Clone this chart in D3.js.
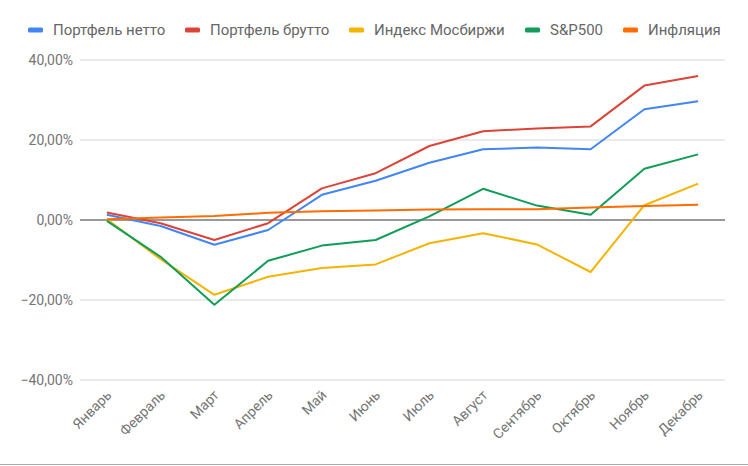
<!DOCTYPE html>
<html><head><meta charset="utf-8">
<script src="https://cdn.jsdelivr.net/npm/d3@7"></script>
<style>body{margin:0;background:#fff}svg{display:block;font-family:Roboto,Arial,sans-serif}</style>
</head><body><svg id="c" width="748" height="466"></svg>
<script>
const months = ["Январь","Февраль","Март","Апрель","Май","Июнь","Июль","Август","Сентябрь","Октябрь","Ноябрь","Декабрь"];
const seriesNames = ["Портфель нетто","Портфель брутто","Индекс Мосбиржи","S&P500","Инфляция"];
const seriesColors = ["#4285F4","#DB4437","#F4B400","#0F9D58","#FF6D00"];
const netto  = [1.3,-1.5,-6.2,-2.5,6.3,9.8,14.3,17.7,18.1,17.7,27.7,29.7];
const brutto = [1.9,-0.8,-5.0,-0.8,7.9,11.7,18.5,22.2,22.9,23.4,33.6,36.0];
const moex   = [0.2,-9.8,-18.7,-14.2,-12.0,-11.1,-5.8,-3.3,-6.1,-13.0,3.7,9.1];
const sp500  = [-0.2,-9.2,-21.2,-10.2,-6.4,-5.0,0.9,7.8,3.6,1.3,12.8,16.4];
const infl   = [0.2,0.6,1.0,1.8,2.2,2.4,2.6,2.7,2.7,3.1,3.5,3.8];
const yTicks = [-40,-20,0,20,40];
const data = [netto,brutto,moex,sp500,infl];

const svg = d3.select("#c");
const L=80,R=725,T=60,B=380;
const x = d3.scalePoint().domain(months).range([L,R]).padding(0.5);
const y = d3.scaleLinear().domain([-40,40]).range([B,T]);
const fmt = v => d3.format(".2f")(v).replace(".",",")+"%";

// gridlines
svg.append("g").selectAll("line").data(yTicks.filter(d=>d!==0)).join("line")
  .attr("x1",L).attr("x2",R).attr("y1",d=>y(d)).attr("y2",d=>y(d))
  .attr("stroke","#d6d6d6").attr("stroke-width",1);
// y labels
const ya = svg.append("g").attr("transform",`translate(${L},0)`)
  .call(d3.axisLeft(y).tickValues(yTicks).tickSize(0).tickPadding(7).tickFormat(fmt));
ya.select(".domain").remove();
ya.selectAll("text").attr("font-size",14).attr("fill","#757575").attr("font-family","Roboto");
// x labels
const xa = svg.append("g").attr("transform",`translate(0,${B})`)
  .call(d3.axisBottom(x).tickSize(0).tickPadding(0));
xa.select(".domain").remove();
xa.selectAll("text").attr("font-size",14).attr("fill","#757575").attr("font-family","Roboto")
  .attr("text-anchor","end").attr("dy",null).attr("y",0)
  .attr("transform","translate(5,16) rotate(-45)");

// baseline
svg.append("line").attr("x1",L).attr("x2",R).attr("y1",y(0)).attr("y2",y(0))
  .attr("stroke","#777").attr("stroke-width",1.5);
// lines
const line = d3.line().x((d,i)=>x(months[i])).y(d=>y(d));
svg.append("g").selectAll("path").data(data).join("path")
  .attr("d",line).attr("fill","none").attr("stroke",(d,i)=>seriesColors[i])
  .attr("stroke-width",2).attr("stroke-linejoin","round");

// legend
const legX=[28,185,349,525,623];
const lg = svg.append("g").selectAll("g").data(seriesNames).join("g")
  .attr("transform",(d,i)=>`translate(${legX[i]},30)`);
lg.append("rect").attr("x",0).attr("y",-2.5).attr("width",15).attr("height",5).attr("rx",1.5)
  .attr("fill",(d,i)=>seriesColors[i]);
lg.append("text").attr("x",25).attr("y",5).attr("font-size",15).attr("fill","#666")
  .attr("font-family","Roboto").text(d=>d);

// bottom border
svg.append("line").attr("x1",0).attr("x2",748).attr("y1",464.5).attr("y2",464.5)
  .attr("stroke","#aaa").attr("stroke-width",1);
</script></body></html>
